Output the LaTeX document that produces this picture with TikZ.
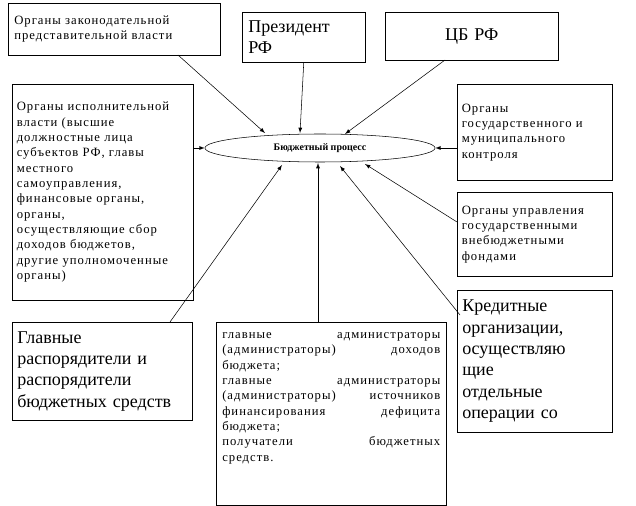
\documentclass[tikz,border=0pt]{standalone}
\usepackage{fontspec}
\setmainfont{Liberation Serif}
\newfontfamily\spaced[LetterSpace=8]{Liberation Serif}
\usetikzlibrary{shapes.geometric}
\begin{document}
\begin{tikzpicture}[x=0.75pt,y=-0.75pt,inner sep=3pt]
\tikzstyle{org}=[rectangle,draw,anchor=north west,align=left,font=\spaced\fontsize{9.5}{11.5}\selectfont]
\tikzstyle{big}=[rectangle,draw,anchor=north west,align=left,font=\fontsize{13.5}{16}\selectfont]
\tikzstyle{arr}=[->,>=latex]
\useasboundingbox (0,0) rectangle (636,506);
\node[org,minimum width=212*0.75pt,minimum height=52*0.75pt,text width=200*0.75pt] (leg) at (8,3) {Органы законодательной\\представительной власти\\[8pt]};
\node[big,minimum width=123*0.75pt,minimum height=50*0.75pt,text width=111*0.75pt] (pres) at (242,12) {Президент\\РФ};
\node[big,minimum width=173*0.75pt,minimum height=48*0.75pt,text width=161*0.75pt,align=center] (cb) at (385,12) {ЦБ РФ\\[12pt]};
\node[org,minimum width=181*0.75pt,minimum height=216*0.75pt,text width=172*0.75pt] (exe) at (12,84) {Органы исполнительной\\власти (высшие\\должностные лица\\субъектов РФ, главы\\местного\\самоуправления,\\финансовые органы,\\органы,\\осуществляющие сбор\\доходов бюджетов,\\другие уполномоченные\\органы)};
\node[ellipse,draw,minimum width=230*0.75pt,minimum height=28*0.75pt,font=\bfseries\fontsize{7.5}{9}\selectfont] (bp) at (320,148) {Бюджетный процесс};
\node[org,minimum width=155*0.75pt,minimum height=96*0.75pt,text width=146*0.75pt] (ctl) at (457,84) {Органы\\государственного и\\муниципального\\контроля\\[22pt]};
\node[org,minimum width=155*0.75pt,minimum height=84*0.75pt,text width=146*0.75pt] (fund) at (457,192) {Органы управления\\государственными\\внебюджетными\\фондами};
\node[big,minimum width=180*0.75pt,minimum height=98*0.75pt,text width=170*0.75pt] (rasp) at (12,322) {Главные\\распорядители и\\распорядители\\бюджетных средств};
\node[org,minimum width=230*0.75pt,minimum height=183*0.75pt,text width=218*0.75pt,align=justify] (adm) at (216,322) {главные администраторы (администраторы) доходов бюджета;\\главные администраторы (администраторы) источников финансирования дефицита бюджета;\\получатели\hfill бюджетных\\средств.\\[14pt]};
\node[big,minimum width=155*0.75pt,minimum height=142*0.75pt,text width=145*0.75pt] (cred) at (457,290) {Кредитные\\организации,\\осуществляю\\щие\\отдельные\\операции со};
\draw[arr] (178,55) -- (265,133);
\draw[arr] (pres.south) -- (300,133);
\draw[arr] (445,60) -- (345,134);
\draw[arr] (exe.east |- bp) -- (bp.west);
\draw[arr] (ctl.west |- bp) -- (bp.east);
\draw[arr] (457,222) -- (365,164);
\draw[arr] (460,315) -- (340,166);
\draw[arr] (170,322) -- (282,165);
\draw[arr] (adm.north -| 318,0) -- (318,163);
\end{tikzpicture}
\end{document}
